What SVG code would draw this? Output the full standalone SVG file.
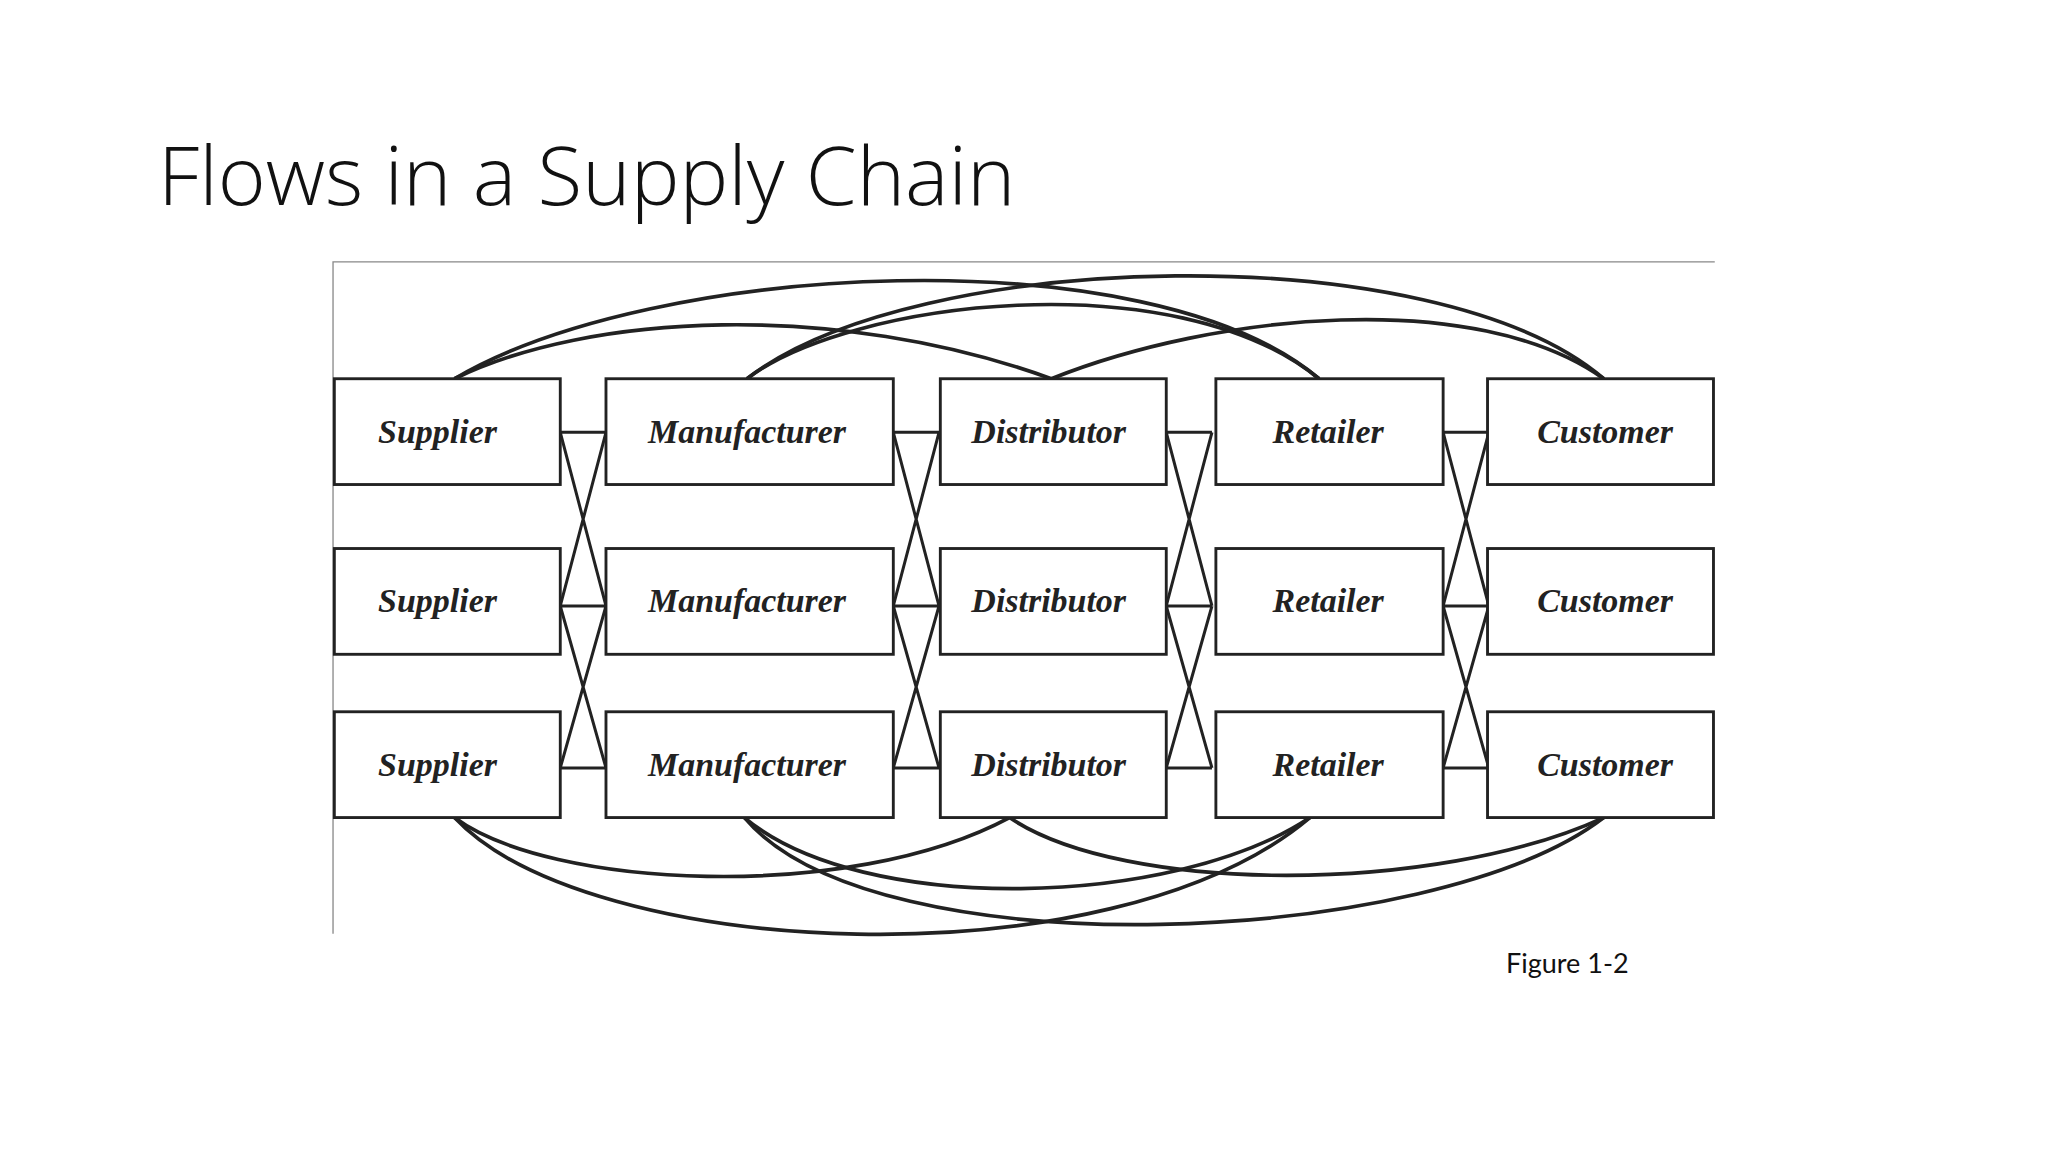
<svg xmlns="http://www.w3.org/2000/svg" width="2048" height="1152" viewBox="0 0 2048 1152">
<style>
.b{fill:#fff;stroke:#222;stroke-width:2.2}
.t{font-family:"Liberation Serif",serif;font-weight:bold;font-style:italic;font-size:26px;fill:#222;text-anchor:middle}
.c{fill:none;stroke:#222;stroke-width:2.8}
</style>
<rect width="2048" height="1152" fill="#fff"/>
<text x="158" y="205" font-family="Open Sans, sans-serif" font-weight="300" font-size="82" fill="#111">Flows in a Supply Chain</text>
<text x="1506" y="973" font-family="Lato, sans-serif" font-size="27" fill="#111">Figure 1-2</text>
<g transform="scale(1.306)">
<path d="M255 715V200.5H1313" fill="none" stroke="#888" stroke-width="1"/>
<g id="connectors">
<path class="c" d="M348 290C450 240 640 230 805 290"/>
<path class="c" d="M348 290C500 200 880 180 1010 290"/>
<path class="c" d="M572 290C650 230 900 200 1010 290"/>
<path class="c" d="M572 290C700 190 1100 180 1228 290"/>
<path class="c" d="M805 290C930 240 1130 220 1228 290"/>
<path class="c" d="M348 626C420 680 650 692 773 626"/>
<path class="c" d="M348 626C450 735 850 755 1003 626"/>
<path class="c" d="M570 626C660 702 900 695 1003 626"/>
<path class="c" d="M570 626C670 745 1100 725 1228 626"/>
<path class="c" d="M773 626C860 685 1100 685 1228 626"/>
<g stroke="#222" stroke-width="2.3" fill="none">
<path id="g1" d="M429 331H464M429 464H464M429 588H464M429 331L464 464M429 464L464 331M429 464L464 588M429 588L464 464"/>
<use href="#g1" x="255"/>
<use href="#g1" x="464"/>
<use href="#g1" x="676"/>
</g>
</g>
<g id="n-s1"><rect class="b" x="256" y="290" width="173" height="81"/><text class="t" x="335" y="339">Supplier</text></g>
<g id="n-m1"><rect class="b" x="464" y="290" width="220" height="81"/><text class="t" x="572" y="339">Manufacturer</text></g>
<g id="n-d1"><rect class="b" x="720" y="290" width="173" height="81"/><text class="t" x="803" y="339">Distributor</text></g>
<g id="n-r1"><rect class="b" x="931" y="290" width="174" height="81"/><text class="t" x="1017" y="339">Retailer</text></g>
<g id="n-c1"><rect class="b" x="1139" y="290" width="173" height="81"/><text class="t" x="1229" y="339">Customer</text></g>
<g id="n-s2"><rect class="b" x="256" y="420" width="173" height="81"/><text class="t" x="335" y="469">Supplier</text></g>
<g id="n-m2"><rect class="b" x="464" y="420" width="220" height="81"/><text class="t" x="572" y="469">Manufacturer</text></g>
<g id="n-d2"><rect class="b" x="720" y="420" width="173" height="81"/><text class="t" x="803" y="469">Distributor</text></g>
<g id="n-r2"><rect class="b" x="931" y="420" width="174" height="81"/><text class="t" x="1017" y="469">Retailer</text></g>
<g id="n-c2"><rect class="b" x="1139" y="420" width="173" height="81"/><text class="t" x="1229" y="469">Customer</text></g>
<g id="n-s3"><rect class="b" x="256" y="545" width="173" height="81"/><text class="t" x="335" y="594">Supplier</text></g>
<g id="n-m3"><rect class="b" x="464" y="545" width="220" height="81"/><text class="t" x="572" y="594">Manufacturer</text></g>
<g id="n-d3"><rect class="b" x="720" y="545" width="173" height="81"/><text class="t" x="803" y="594">Distributor</text></g>
<g id="n-r3"><rect class="b" x="931" y="545" width="174" height="81"/><text class="t" x="1017" y="594">Retailer</text></g>
<g id="n-c3"><rect class="b" x="1139" y="545" width="173" height="81"/><text class="t" x="1229" y="594">Customer</text></g>
</g>
</svg>
